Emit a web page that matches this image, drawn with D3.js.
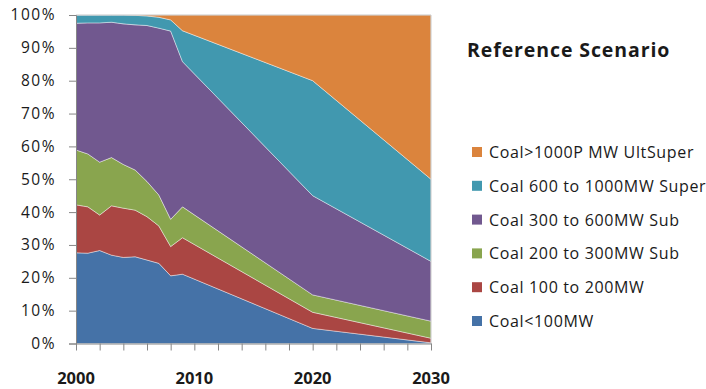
<!DOCTYPE html>
<html>
<head>
<meta charset="utf-8">
<script src="https://cdn.jsdelivr.net/npm/d3@7"></script>
<style>
  body { margin: 0; background: #fff; }
  text { font-family: "Open Sans", sans-serif; fill: #1a1a1a; }
</style>
</head>
<body>
<svg id="chart" width="706" height="389"></svg>
<script>
var years = [2000, 2001, 2002, 2003, 2004, 2005, 2006, 2007, 2008, 2009, 2020, 2030];
var seriesNames = ["Coal<100MW", "Coal 100 to 200MW", "Coal 200 to 300MW Sub",
  "Coal 300 to 600MW Sub", "Coal 600 to 1000MW Super", "Coal>1000P MW UltSuper"];
// shares in % per year
var coalLt100 = [27.6, 27.5, 28.3, 26.9, 26.2, 26.4, 25.4, 24.4, 20.6, 21.1, 4.6, 0.2];
var coal100to200 = [14.6, 14.1, 10.8, 15.0, 15.0, 14.2, 13.2, 11.4, 8.9, 11.1, 4.9, 1.4];
var coal200to300 = [16.7, 16.1, 16.1, 14.7, 13.3, 12.2, 10.7, 9.4, 8.3, 9.4, 5.3, 5.2];
var coal300to600 = [38.6, 39.9, 42.4, 41.2, 42.8, 44.2, 47.5, 50.8, 57.3, 44.2, 30.2, 18.2];
var coal600to1000 = [2.5, 2.4, 2.4, 2.2, 2.7, 2.9, 2.9, 3.3, 3.4, 9.4, 35.0, 25.0];
var coalGt1000 = [0, 0, 0, 0, 0, 0.1, 0.3, 0.7, 1.5, 4.8, 20.0, 50.0];
var yTicks = [0, 0.1, 0.2, 0.3, 0.4, 0.5, 0.6, 0.7, 0.8, 0.9, 1];
var xLabels = [2000, 2010, 2020, 2030];

var colors = ["#4572A7", "#AA4643", "#89A54E", "#71588F", "#4198AF", "#DB843D"];
var allSeries = [coalLt100, coal100to200, coal200to300, coal300to600, coal600to1000, coalGt1000];

var table = years.map(function(y, i) {
  var row = {year: y};
  seriesNames.forEach(function(n, k) { row[n] = allSeries[k][i]; });
  return row;
});

var margin = {top: 15, left: 76};
var svg = d3.select("#chart");
var x = d3.scaleLinear().domain([2000, 2030]).range([margin.left, 431]);
var y = d3.scaleLinear().domain([0, 1]).range([343.5, margin.top]);

var stack = d3.stack().keys(seriesNames).offset(d3.stackOffsetExpand);
var layers = stack(table);

var area = d3.area()
  .x(d => x(d.data.year))
  .y0(d => y(d[0]))
  .y1(d => y(d[1]));

svg.append("g").selectAll("path")
  .data(layers)
  .join("path")
  .attr("d", area)
  .attr("fill", (d, i) => colors[i])
  .attr("stroke", "#ffffff")
  .attr("stroke-opacity", 0.6)
  .attr("stroke-width", 0.7);

// plot border top/right
svg.append("path")
  .attr("d", `M${x(2000)},${y(1)}H${x(2030)}V${y(0)}`)
  .attr("fill", "none")
  .attr("stroke", "#c8c8c8")
  .attr("stroke-width", 1);

// y axis
var yAxis = d3.axisLeft(y).tickValues(yTicks).tickFormat(d3.format(".0%")).tickSize(7).tickPadding(13);
var gy = svg.append("g").attr("transform", `translate(${margin.left},0)`).call(yAxis);
gy.select(".domain").attr("stroke", "#868686");
gy.selectAll(".tick line").attr("stroke", "#868686");
gy.selectAll("text")
  .style("font-size", "15.5px")
  .style("letter-spacing", "1.5px")
  .attr("fill", "#1a1a1a");

// x axis
var xTicks = d3.range(2000, 2031, 2);
var xAxis = d3.axisBottom(x).tickValues(xTicks).tickFormat("").tickSize(7).tickSizeOuter(0);
var gx = svg.append("g").attr("transform", `translate(0,${y(0)})`).call(xAxis);
gx.select(".domain").attr("stroke", "#868686");
gx.selectAll(".tick line").attr("stroke", "#868686");

svg.append("g").selectAll("text")
  .data(xLabels)
  .join("text")
  .attr("x", d => x(d))
  .attr("y", 384)
  .attr("text-anchor", "middle")
  .style("font-size", "16.5px")
  .style("font-weight", "bold")
  .text(d => d);

// title
svg.append("text")
  .attr("x", 467)
  .attr("y", 57)
  .style("font-size", "19.5px")
  .style("font-weight", "bold")
  .style("letter-spacing", "0.9px")
  .text("Reference Scenario");

// legend, top entry is the last series
var legend = svg.append("g");
var order = seriesNames.map((n, i) => i).reverse();
var item = legend.selectAll("g")
  .data(order)
  .join("g")
  .attr("transform", (d, i) => `translate(472,${152 + i * 33.8})`);
item.append("rect")
  .attr("x", 0).attr("y", -5)
  .attr("width", 10).attr("height", 10)
  .attr("fill", d => colors[d]);
item.append("text")
  .attr("x", 17)
  .attr("y", 6)
  .style("font-size", "16px")
  .style("letter-spacing", "0.65px")
  .text(d => seriesNames[d]);
</script>
</body>
</html>
